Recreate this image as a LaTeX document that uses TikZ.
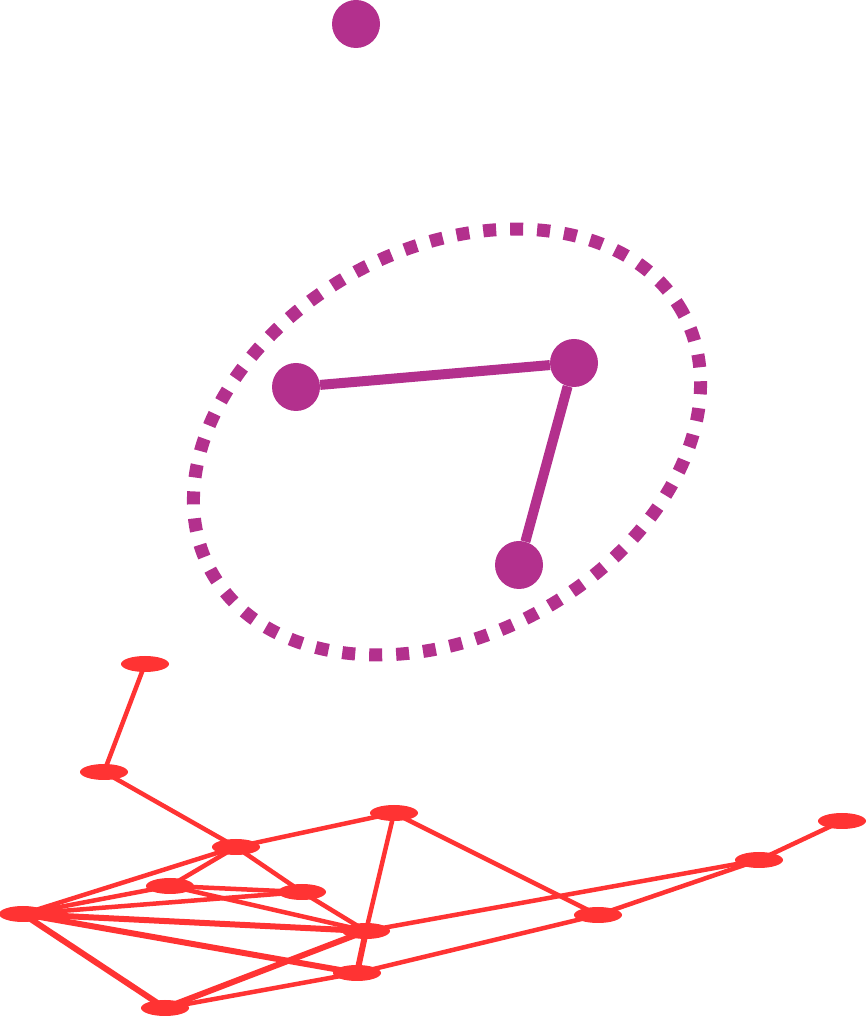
\documentclass[tikz,border=0pt]{standalone}
\usetikzlibrary{shapes.geometric}
\definecolor{pur}{RGB}{179,48,141}
\definecolor{rd}{RGB}{255,51,51}
\begin{document}
\begin{tikzpicture}[x=1pt,y=1pt,
  pnode/.style={circle,fill=pur,minimum size=48pt,inner sep=0pt},
  rnode/.style={ellipse,fill=rd,minimum width=48pt,minimum height=16pt,inner sep=0pt},
  pedge/.style={draw=pur,line width=10pt},
  redge/.style={draw=rd,line width=4.5pt},
  tedge/.style={draw=rd,line width=6pt}]
\useasboundingbox (0,0) rectangle (867,1018);
% purple part
\draw[pur,line width=13pt,dash pattern=on 13pt off 14pt] (447,576) ellipse [x radius=269pt, y radius=193pt, rotate=28.7];
\node[pnode] (top) at (356,994) {};
\node[pnode] (A) at (296,631) {};
\node[pnode] (B) at (574,655) {};
\node[pnode] (C) at (519,453) {};
\draw[pedge] (A) -- (B);
\draw[pedge] (B) -- (C);
% red network coordinates
\coordinate (c1) at (145,354);
\coordinate (c2) at (104,246);
\coordinate (c3) at (394,205);
\coordinate (c4) at (236,171);
\coordinate (c5) at (170,132);
\coordinate (c6) at (302,126);
\coordinate (c7) at (23,104);
\coordinate (c8) at (366,87);
\coordinate (c9) at (357,45);
\coordinate (c10) at (165,10);
\coordinate (c11) at (598,103);
\coordinate (c12) at (759,158);
\coordinate (c13) at (842,197);
% edges
\draw[redge] (c1) -- (c2);
\draw[redge] (c2) -- (c4);
\draw[redge] (c4) -- (c3);
\draw[redge] (c4) -- (c5);
\draw[redge] (c4) -- (c6);
\draw[redge] (c4) -- (c7);
\draw[redge] (c5) -- (c6);
\draw[redge] (c5) -- (c7);
\draw[redge] (c5) -- (c8);
\draw[redge] (c6) -- (c7);
\draw[redge] (c6) -- (c8);
\draw[tedge] (c7) -- (c8);
\draw[tedge] (c7) -- (c9);
\draw[tedge] (c7) -- (c10);
\draw[tedge] (c10) -- (c8);
\draw[redge] (c10) -- (c9);
\draw[redge] (c3) -- (c8);
\draw[tedge] (c8) -- (c9);
\draw[redge] (c3) -- (c11);
\draw[redge] (c8) -- (c12);
\draw[redge] (c9) -- (c11);
\draw[redge] (c11) -- (c12);
\draw[redge] (c12) -- (c13);
% nodes
\foreach \i in {1,...,13} {\node[rnode] (n\i) at (c\i) {};}
\end{tikzpicture}
\end{document}
